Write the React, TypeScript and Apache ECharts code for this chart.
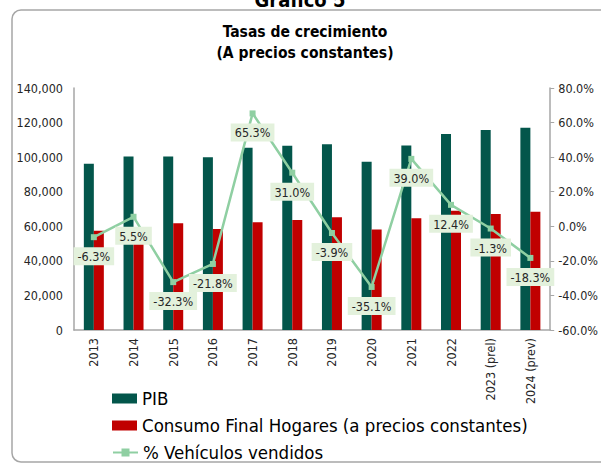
import React, { useEffect, useRef } from "react";
import * as echarts from "echarts";

const categories = ["2013", "2014", "2015", "2016", "2017", "2018", "2019", "2020", "2021", "2022", "2023 (prel)", "2024 (prev)"];
const pib = [96200, 100300, 100300, 99900, 105500, 106600, 107400, 97400, 106800, 113400, 115700, 117000];
const consumo = [57400, 59500, 61700, 58400, 62300, 63600, 65200, 58200, 64600, 69000, 67100, 68400];
const vehiculos = [-6.3, 5.5, -32.3, -21.8, 65.3, 31.0, -3.9, -35.1, 39.0, 12.4, -1.3, -18.3];
const leftTicks = { min: 0, max: 140000, interval: 20000 };
const rightTicks = { min: -60, max: 80, interval: 20 };
const seriesNames = ["PIB", "Consumo Final Hogares (a precios constantes)", "% Vehículos vendidos"];

const FONT = "'DejaVu Sans Condensed', 'DejaVu Sans', sans-serif";

export default function App() {
  const ref = useRef<HTMLDivElement>(null);
  useEffect(() => {
    if (!ref.current) return;
    const chart = echarts.init(ref.current, undefined, { renderer: "svg" });
    const legendTops = [384, 411, 438];
    chart.setOption({
      animation: false,
      backgroundColor: "#ffffff",
      textStyle: { fontFamily: FONT },
      graphic: [
        {
          type: "rect",
          shape: { x: 12, y: 10, width: 640, height: 452, r: 9 },
          style: { fill: "none", stroke: "#a6a6a6", lineWidth: 1.5 },
          z: 0,
        },
        {
          type: "text",
          x: 300,
          y: 10,
          style: {
            text: "Gráfico 5",
            fontFamily: FONT,
            fontSize: 20,
            fontWeight: "bold",
            fill: "#000",
            align: "center",
            verticalAlign: "bottom",
          },
        },
      ],
      title: {
        text: "Tasas de crecimiento\n(A precios constantes)",
        left: 300,
        top: 16,
        textAlign: "center",
        textStyle: { fontFamily: FONT, fontSize: 15.5, fontWeight: "bold", color: "#000", lineHeight: 21 },
      },
      legend: seriesNames.map((n, i) => ({
        orient: "vertical",
        left: 107,
        top: legendTops[i],
        itemWidth: 25,
        itemHeight: 10,
        textStyle: { fontFamily: FONT, fontSize: 18.5, color: "#000", lineHeight: 18 },
        data: [i < 2 ? { name: n, icon: "rect" } : { name: n }],
      })),
      grid: { left: 74, right: 50, top: 88, bottom: 133, containLabel: false },
      xAxis: {
        type: "category",
        data: categories,
        axisLine: { lineStyle: { color: "#a6a6a6", width: 1.5 } },
        axisTick: { show: false },
        axisLabel: { rotate: 90, margin: 8, fontFamily: FONT, fontSize: 12.5, color: "#262626" },
      },
      yAxis: [
        {
          type: "value",
          ...leftTicks,
          position: "left",
          axisLine: { show: true, lineStyle: { color: "#a6a6a6", width: 1.5 } },
          axisTick: { show: false },
          splitLine: { show: false },
          axisLabel: {
            margin: 11,
            fontFamily: FONT,
            fontSize: 12.5,
            color: "#262626",
            formatter: (v: number) => v.toLocaleString("en-US"),
          },
        },
        {
          type: "value",
          ...rightTicks,
          position: "right",
          axisLine: { show: true, lineStyle: { color: "#a6a6a6", width: 1.5 } },
          axisTick: { show: true, length: 4, lineStyle: { color: "#a6a6a6" } },
          splitLine: { show: false },
          axisLabel: {
            margin: 8,
            fontFamily: FONT,
            fontSize: 12.5,
            color: "#262626",
            formatter: (v: number) => v.toFixed(1) + "%",
          },
        },
      ],
      series: [
        {
          name: seriesNames[0],
          type: "bar",
          data: pib,
          barWidth: 10,
          barGap: "0%",
          itemStyle: { color: "#03564b" },
        },
        {
          name: seriesNames[1],
          type: "bar",
          data: consumo,
          barWidth: 10,
          barGap: "0%",
          itemStyle: { color: "#c00000" },
        },
        {
          name: seriesNames[2],
          type: "line",
          yAxisIndex: 1,
          data: vehiculos,
          symbol: "rect",
          symbolSize: 6,
          lineStyle: { color: "#8fcfa2", width: 2.5 },
          itemStyle: { color: "#8fcfa2" },
          z: 3,
          label: {
            show: true,
            position: "bottom",
            distance: 7,
            backgroundColor: "#e3f1dc",
            padding: [3, 4, 2, 4],
            color: "#262626",
            fontFamily: FONT,
            fontSize: 12.5,
            formatter: (p: any) => p.value.toFixed(1) + "%",
          },
        },
      ],
    });
    return () => chart.dispose();
  }, []);
  return <div ref={ref} style={{ width: 601, height: 463, position: "absolute", left: 0, top: 0 }} />;
}
